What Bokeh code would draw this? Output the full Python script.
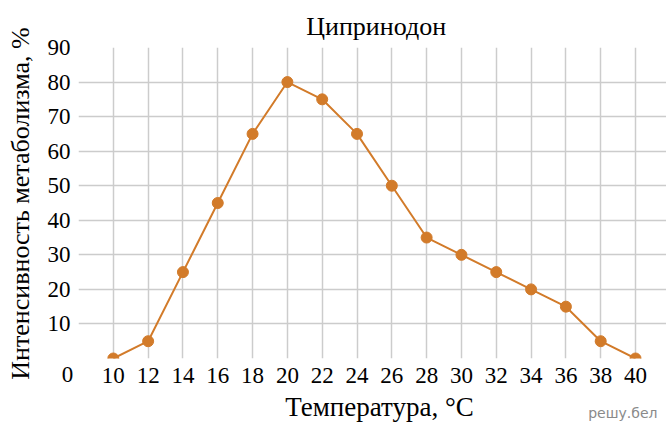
import math
from bokeh.plotting import figure
from bokeh.models import FixedTicker, Label
from bokeh.embed import file_html
from bokeh.resources import INLINE

temperature = [10, 12, 14, 16, 18, 20, 22, 24, 26, 28, 30, 32, 34, 36, 38, 40]
metabolism = [0, 5, 25, 45, 65, 80, 75, 65, 50, 35, 30, 25, 20, 15, 5, 0]
x_ticks = list(range(10, 42, 2))
y_ticks = list(range(10, 100, 10))
x_grid = list(range(8, 42, 2))
y_grid = list(range(0, 100, 10))

FONT = "Liberation Serif"
GRID = "#cccccc"
LINE = "#d27b2a"

p = figure(width=666, height=422, x_range=(8, 41.78), y_range=(0, 90), title=None,
           output_backend="svg", toolbar_location=None,
           min_border_left=78, min_border_right=0, min_border_top=47, min_border_bottom=64)
p.outline_line_color = None

p.xaxis.ticker = FixedTicker(ticks=x_ticks)
p.yaxis.ticker = FixedTicker(ticks=y_ticks)
p.xgrid.ticker = FixedTicker(ticks=x_grid)
p.ygrid.ticker = FixedTicker(ticks=y_grid)
for g in (p.xgrid, p.ygrid):
    g.grid_line_color = GRID
    g.grid_line_width = 1.5

for ax in (p.xaxis, p.yaxis):
    ax.axis_line_color = None
    ax.major_tick_line_color = None
    ax.minor_tick_line_color = None
    ax.major_label_text_font = FONT
    ax.major_label_text_font_size = "23px"
    ax.major_label_text_color = "black"
p.xaxis.major_label_standoff = 3
p.yaxis.major_label_standoff = 2

p.line(temperature, metabolism, line_color=LINE, line_width=2)
p.scatter(temperature, metabolism, size=11, fill_color=LINE, line_color=LINE)


def side_label(side, x, y, text, font, size, color="black", angle=0.0, align="center"):
    p.add_layout(Label(x=x, y=y, text=text, text_font=font, text_font_size=size,
                       text_color=color, angle=angle, text_align=align,
                       text_baseline="middle"), side)


side_label("above", 25.1, 96.2, "Ципринодон", FONT, "26px")
side_label("above", 41.26, -15.7, "решу.бел", "DejaVu Sans", "14px", color="#8a8a8a",
           align="right")
side_label("below", 25.29, -13.9, "Температура, °C", FONT, "27px")
side_label("left", 7.37, -4.5, "0", FONT, "23px")
side_label("left", 4.67, 44.85, "Интенсивность метаболизма, %", FONT, "26px", angle=math.pi / 2)

open("out.html", "w").write(file_html(p, INLINE))
